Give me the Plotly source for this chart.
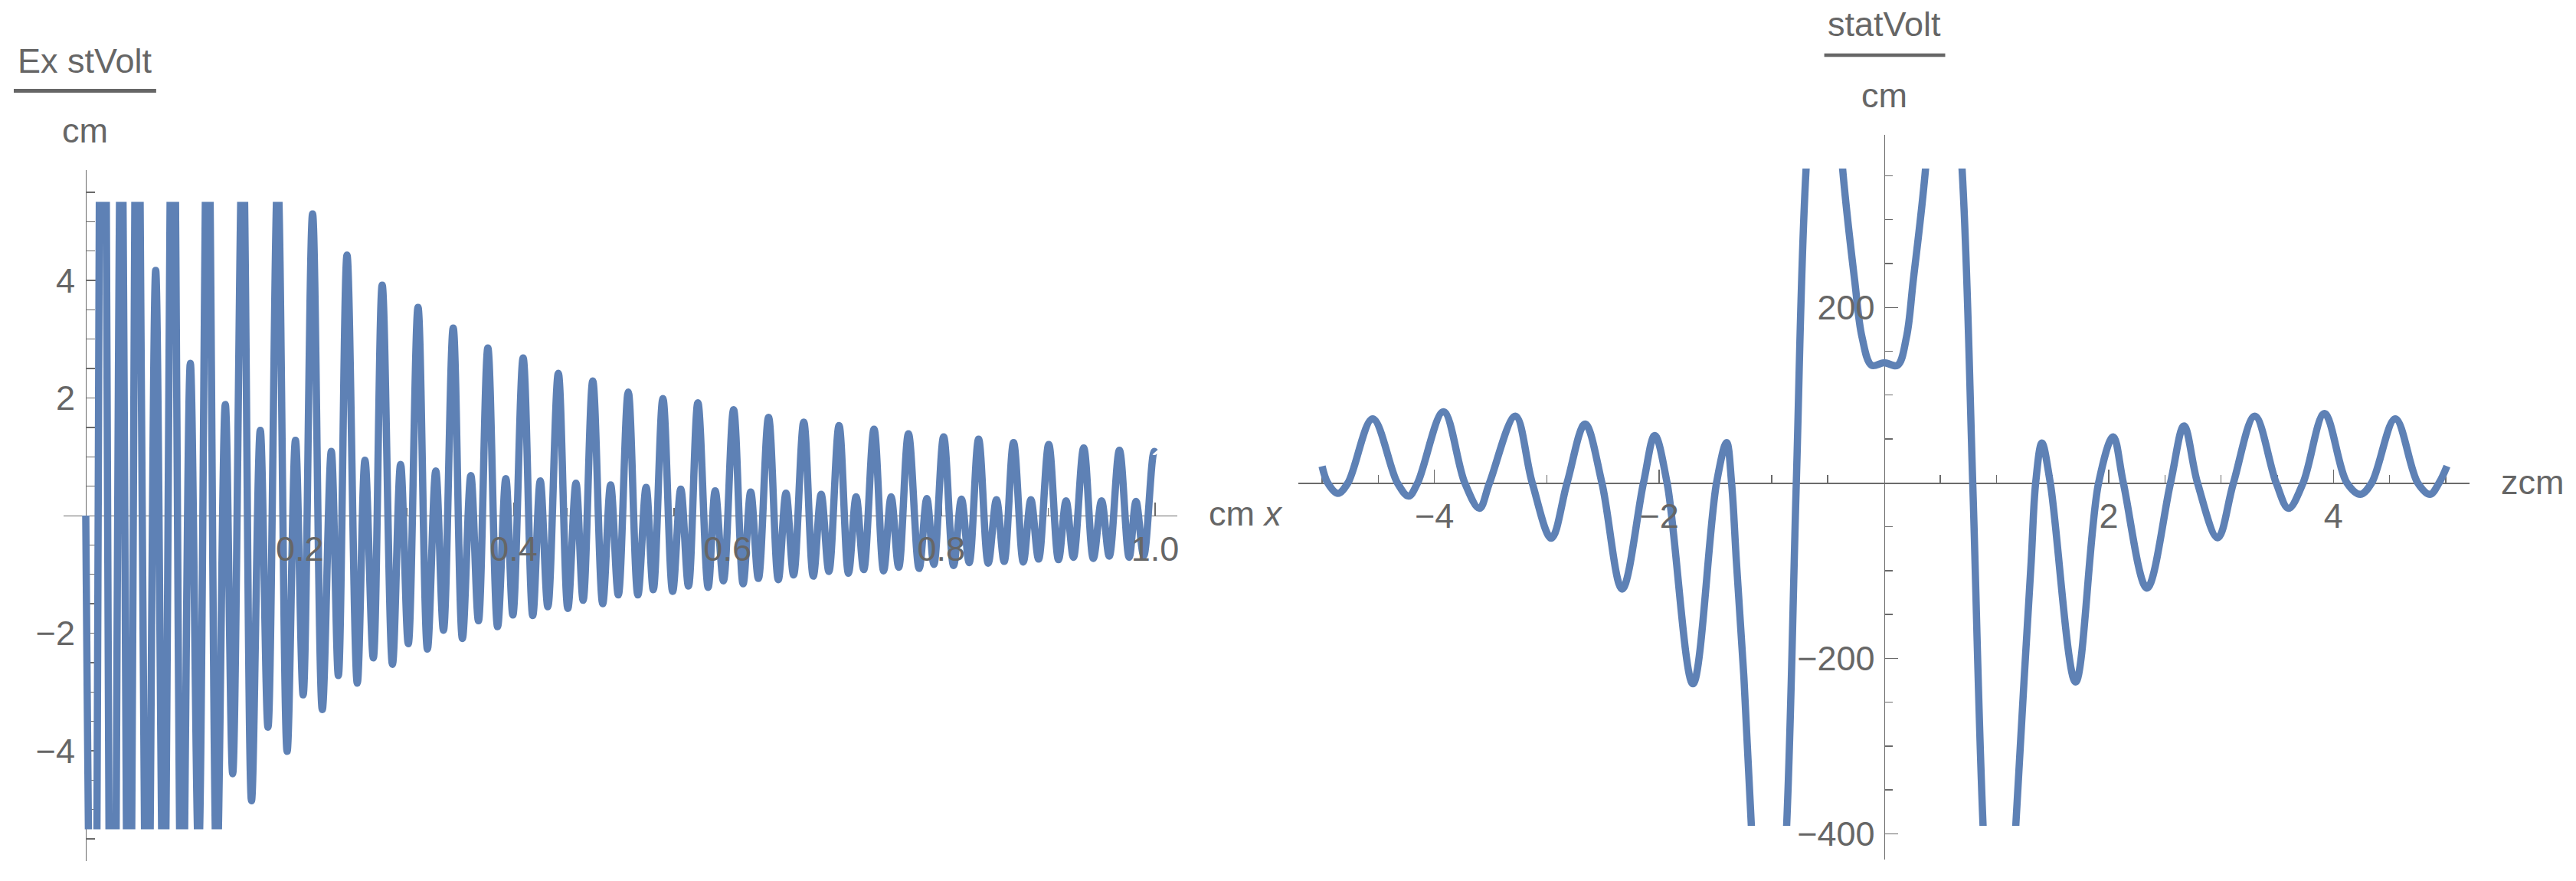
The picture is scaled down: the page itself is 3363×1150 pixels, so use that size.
import plotly.graph_objects as go

W, H = 3363, 1150

# ---------------- data ----------------
# Left panel: Ex [statVolt/cm] versus x [cm]; successive extrema of the curve
# (values beyond the +-5.34 plot range are estimates of the off-chart extrema)
x_left = [0.0, 0.0075, 0.0158, 0.0250, 0.0332, 0.0405, 0.0487, 0.0570, 0.0654, 0.0730,
          0.0814, 0.0900, 0.0978, 0.1055, 0.1141, 0.1225, 0.1305, 0.1374, 0.1468, 0.1550,
          0.1632, 0.1704, 0.1795, 0.1883, 0.1961, 0.2033, 0.2121, 0.2212, 0.2296, 0.2362,
          0.2443, 0.2539, 0.2611, 0.2689, 0.2772, 0.2868, 0.2944, 0.3016, 0.3107, 0.3195,
          0.3273, 0.3345, 0.3436, 0.3522, 0.3601, 0.3672, 0.3760, 0.3851, 0.3928, 0.3994,
          0.4090, 0.4180, 0.4250, 0.4321, 0.4419, 0.4508, 0.4584, 0.4651, 0.4741, 0.4834,
          0.4908, 0.4980, 0.5073, 0.5163, 0.5240, 0.5307, 0.5397, 0.5488, 0.5564, 0.5636,
          0.5724, 0.5820, 0.5886, 0.5963, 0.6058, 0.6147, 0.6218, 0.6290, 0.6385, 0.6476,
          0.6548, 0.6619, 0.6714, 0.6803, 0.6877, 0.6949, 0.7044, 0.7132, 0.7204, 0.7275,
          0.7371, 0.7461, 0.7531, 0.7602, 0.7693, 0.7793, 0.7865, 0.7931, 0.8022, 0.8115,
          0.8189, 0.8261, 0.8349, 0.8439, 0.8516, 0.8588, 0.8676, 0.8767, 0.8838, 0.8910,
          0.9005, 0.9096, 0.9167, 0.9236, 0.9332, 0.9422, 0.9499, 0.9571, 0.9666, 0.9757,
          0.9821, 0.9893, 0.9990, 1.0]
ex_left = [0.0, -12, 14, -13, 7.5, -10, 11, -10.5, 4.17, -7.5,
           9.0, -8.0, 2.59, -5.8, 7.8, -6.2, 1.89, -4.39, 6.6, -4.85,
           1.45, -3.60, 5.8, -4.01, 1.28, -3.05, 5.13, -3.30, 1.09, -2.72,
           4.43, -2.85, 0.94, -2.42, 3.92, -2.53, 0.87, -2.18, 3.54, -2.27,
           0.76, -1.95, 3.19, -2.09, 0.68, -1.79, 2.85, -1.89, 0.63, -1.69,
           2.68, -1.70, 0.59, -1.55, 2.42, -1.58, 0.55, -1.44, 2.29, -1.50,
           0.52, -1.35, 2.10, -1.35, 0.48, -1.26, 1.99, -1.29, 0.45, -1.20,
           1.92, -1.22, 0.42, -1.11, 1.80, -1.16, 0.40, -1.07, 1.67, -1.09,
           0.38, -1.01, 1.59, -1.03, 0.36, -0.95, 1.53, -0.98, 0.32, -0.92,
           1.47, -0.94, 0.32, -0.88, 1.39, -0.90, 0.29, -0.83, 1.34, -0.85,
           0.28, -0.80, 1.30, -0.81, 0.27, -0.78, 1.24, -0.79, 0.27, -0.74,
           1.21, -0.75, 0.25, -0.71, 1.15, -0.73, 0.25, -0.69, 1.11, -0.71,
           0.24, -0.68, 1.09, 1.08]

# Right panel: field [statVolt/cm] versus z [cm]
z_right = [-5.00, -4.95, -4.86, -4.77, -4.55, -4.33, -4.23, -4.15, -3.92, -3.73,
           -3.60, -3.51, -3.28, -3.13, -2.96, -2.82, -2.66, -2.51, -2.33, -2.14,
           -2.04, -1.93, -1.70, -1.49, -1.40, -1.356, -1.313, -1.248, -1.18, -1.01,
           -0.866, -0.78, -0.693, -0.52, -0.368, -0.26, -0.195, -0.11, 0.0, 0.12,
           0.20, 0.26, 0.37, 0.52, 0.695, 0.79, 0.882, 1.02, 1.173, 1.25,
           1.31, 1.35, 1.405, 1.48, 1.705, 1.91, 2.04, 2.13, 2.34, 2.55,
           2.67, 2.79, 2.97, 3.11, 3.30, 3.49, 3.60, 3.73, 3.92, 4.12,
           4.24, 4.34, 4.55, 4.75, 4.86, 4.94, 5.01]
e_right = [19, 0, -12, 0, 73, 0, -15, 0, 81, 0,
           -29, 0, 76, 0, -63, 0, 67, 0, -121, 0,
           54, 0, -229, 0, 46, 0, -90, -218, -391, -720,
           -391, 0, 358, 640, 358, 230, 166, 134, 137, 134,
           166, 230, 358, 640, 358, 0, -391, -720, -391, -218,
           -90, 0, 45.5, 0, -227, 0, 52.5, 0, -120, 0,
           65, 0, -62.5, 0, 76, 0, -29, 0, 79, 0,
           -13, 0, 73, 0, -13, 0, 19]

# ticks
left_x_major = [0.2, 0.4, 0.6, 0.8, 1.0]
left_x_text = ["0.2", "0.4", "0.6", "0.8", "1.0"]
left_x_minor = [0.05, 0.1, 0.15, 0.25, 0.3, 0.35, 0.45, 0.5, 0.55, 0.65, 0.7, 0.75,
                0.85, 0.9, 0.95]
left_y_major = [-4, -2, 2, 4]
left_y_text = ["\u22124", "\u22122", "2", "4"]
left_y_minor = [-5.5, -5, -4.5, -3.5, -3, -2.5, -1.5, -1, -0.5, 0.5, 1, 1.5, 2.5, 3,
                3.5, 4.5, 5, 5.5]
right_x_major = [-4, -2, 2, 4]
right_x_text = ["\u22124", "\u22122", "2", "4"]
right_x_minor = [-5, -4.5, -3.5, -3, -2.5, -1.5, -1, -0.5, 0.5, 1, 1.5, 2.5, 3, 3.5,
                 4.5, 5]
right_y_major = [-400, -200, 200]
right_y_upper_text = ["\u2212200", "200"]      # labels inside the curve's range
right_y_upper_vals = [-200, 200]
right_y_lower_text = ["\u2212400"]             # label below the curve's range
right_y_lower_vals = [-400]
right_y_minor = [-350, -300, -250, -150, -100, -50, 50, 100, 150, 250, 300, 350]

# ---------------- geometry ----------------
def px(p):
    return p / W

def py(p):
    return 1 - p / H

LX_RANGE = [-0.021, 1.021]
LX_DOM = [px(82.7), px(1538.3)]
LY_RANGE = [-5.876, 5.876]
LY_DOM = [py(1124), py(222)]
LY_CLIP = [-5.336, 5.336]
LY_CLIP_DOM = [py(1082.5), py(263.5)]
L_OX, L_OY = px(112), py(673)

RX_RANGE = [-5.21, 5.21]
RX_DOM = [px(1696.2), px(3225.8)]
RY_RANGE = [-429.3, 396.7]
RY_DOM = [py(1122), py(176)]
RY_CLIP = [-390.9, 358.2]
RY_CLIP_DOM = [py(1078.0), py(220.1)]
R_OX, R_OY = px(2461), py(630.3)

AX = "#6a6a6a"
TXT = "#666666"
CURVE = "#5E81B5"
FONT = "Liberation Sans, Arial, sans-serif"
FS = 45
LW = 9.5


def line_axis(dom, rng, pos, major, minor):
    return dict(domain=dom, range=rng, anchor="free", position=pos,
                showline=True, linecolor=AX, linewidth=1.4,
                ticks="inside", tickmode="array", tickvals=major, ticklen=17,
                tickwidth=1.4, tickcolor=AX, showticklabels=False,
                minor=dict(tickmode="array", tickvals=minor, ticks="inside",
                           ticklen=10.5, tickwidth=1.4, tickcolor=AX),
                showgrid=False, zeroline=False, layer="below traces",
                fixedrange=True)


def hidden_axis(dom, rng, pos):
    return dict(domain=dom, range=rng, anchor="free", position=pos,
                visible=False, showgrid=False, zeroline=False, fixedrange=True)


def label_axis(over, rng, pos, vals, text, standoff):
    return dict(overlaying=over, range=rng, anchor="free", position=pos,
                showline=False, ticks="", tickmode="array", tickvals=vals,
                ticktext=text, tickfont=dict(family=FONT, size=FS, color=TXT),
                ticklabelstandoff=standoff, showgrid=False, zeroline=False,
                layer="above traces", fixedrange=True)


fig = go.Figure()
empty = dict(x=[None], y=[None], mode="lines", showlegend=False, hoverinfo="skip")

# axis-line subplots (drawn first, beneath the curves)
fig.add_trace(go.Scatter(xaxis="x", yaxis="y", **empty))
fig.add_trace(go.Scatter(xaxis="x3", yaxis="y2", **empty))
fig.add_trace(go.Scatter(xaxis="x3", yaxis="y7", **empty))
# curves (on clipping subplots)
fig.add_trace(go.Scatter(x=x_left, y=ex_left, xaxis="x5", yaxis="y5", mode="lines",
                         line=dict(color=CURVE, width=LW, shape="spline",
                                   smoothing=1.0, simplify=False),
                         showlegend=False, hoverinfo="skip"))
fig.add_trace(go.Scatter(x=z_right, y=e_right, xaxis="x6", yaxis="y6", mode="lines",
                         line=dict(color=CURVE, width=LW, shape="spline",
                                   smoothing=1.0, simplify=False),
                         showlegend=False, hoverinfo="skip"))
# tick-label overlays (above the curves)
fig.add_trace(go.Scatter(xaxis="x2", yaxis="y3", **empty))
fig.add_trace(go.Scatter(xaxis="x4", yaxis="y4", **empty))

fig.update_layout(
    width=W, height=H, margin=dict(l=0, r=0, t=0, b=0),
    paper_bgcolor="white", plot_bgcolor="rgba(0,0,0,0)", showlegend=False,
    xaxis=line_axis(LX_DOM, LX_RANGE, L_OY, left_x_major, left_x_minor),
    yaxis=line_axis(LY_DOM, LY_RANGE, L_OX, left_y_major, left_y_minor),
    xaxis3=line_axis(RX_DOM, RX_RANGE, R_OY, right_x_major, right_x_minor),
    yaxis2=line_axis(RY_DOM, RY_RANGE, R_OX, right_y_major, right_y_minor),
    yaxis7=label_axis("y2", RY_RANGE, R_OX, right_y_lower_vals, right_y_lower_text, 12),
    xaxis5=hidden_axis(LX_DOM, LX_RANGE, L_OY),
    yaxis5=hidden_axis(LY_CLIP_DOM, LY_CLIP, L_OX),
    xaxis6=hidden_axis(RX_DOM, RX_RANGE, R_OY),
    yaxis6=hidden_axis(RY_CLIP_DOM, RY_CLIP, R_OX),
    xaxis2=label_axis("x5", LX_RANGE, L_OY, left_x_major, left_x_text, 13),
    yaxis3=label_axis("y5", LY_CLIP, L_OX, left_y_major, left_y_text, 14),
    xaxis4=label_axis("x6", RX_RANGE, R_OY, right_x_major, right_x_text, 13),
    yaxis4=label_axis("y6", RY_CLIP, R_OX, right_y_upper_vals, right_y_upper_text, 12),
)

tf = dict(family=FONT, size=FS, color=TXT)
ann = [
    dict(text="Ex stVolt", x=px(111), y=py(79.8)),
    dict(text="cm", x=px(111), y=py(170.8)),
    dict(text="statVolt", x=px(2461), y=py(31.8)),
    dict(text="cm", x=px(2461), y=py(124.8)),
]
for a in ann:
    fig.add_annotation(xref="paper", yref="paper", xanchor="center", yanchor="middle",
                       showarrow=False, font=tf, **a)
fig.add_annotation(text="cm <i>x</i>", xref="paper", yref="paper", x=px(1577),
                   y=py(670.8), xanchor="left", yanchor="middle", showarrow=False,
                   font=tf)
fig.add_annotation(text="zcm", xref="paper", yref="paper", x=px(3265), y=py(630),
                   xanchor="left", yanchor="middle", showarrow=False, font=tf)

fig.add_shape(type="line", xref="paper", yref="paper", x0=px(18), x1=px(204),
              y0=py(118.6), y1=py(118.6), line=dict(color=TXT, width=5))
fig.add_shape(type="line", xref="paper", yref="paper", x0=px(2383), x1=px(2541),
              y0=py(72), y1=py(72), line=dict(color=TXT, width=4.5))

fig.write_html("out.html",
               config={"displayModeBar": False, "staticPlot": True},
               post_script="document.body.style.margin='0';"
                           "document.body.style.overflow='hidden';")
